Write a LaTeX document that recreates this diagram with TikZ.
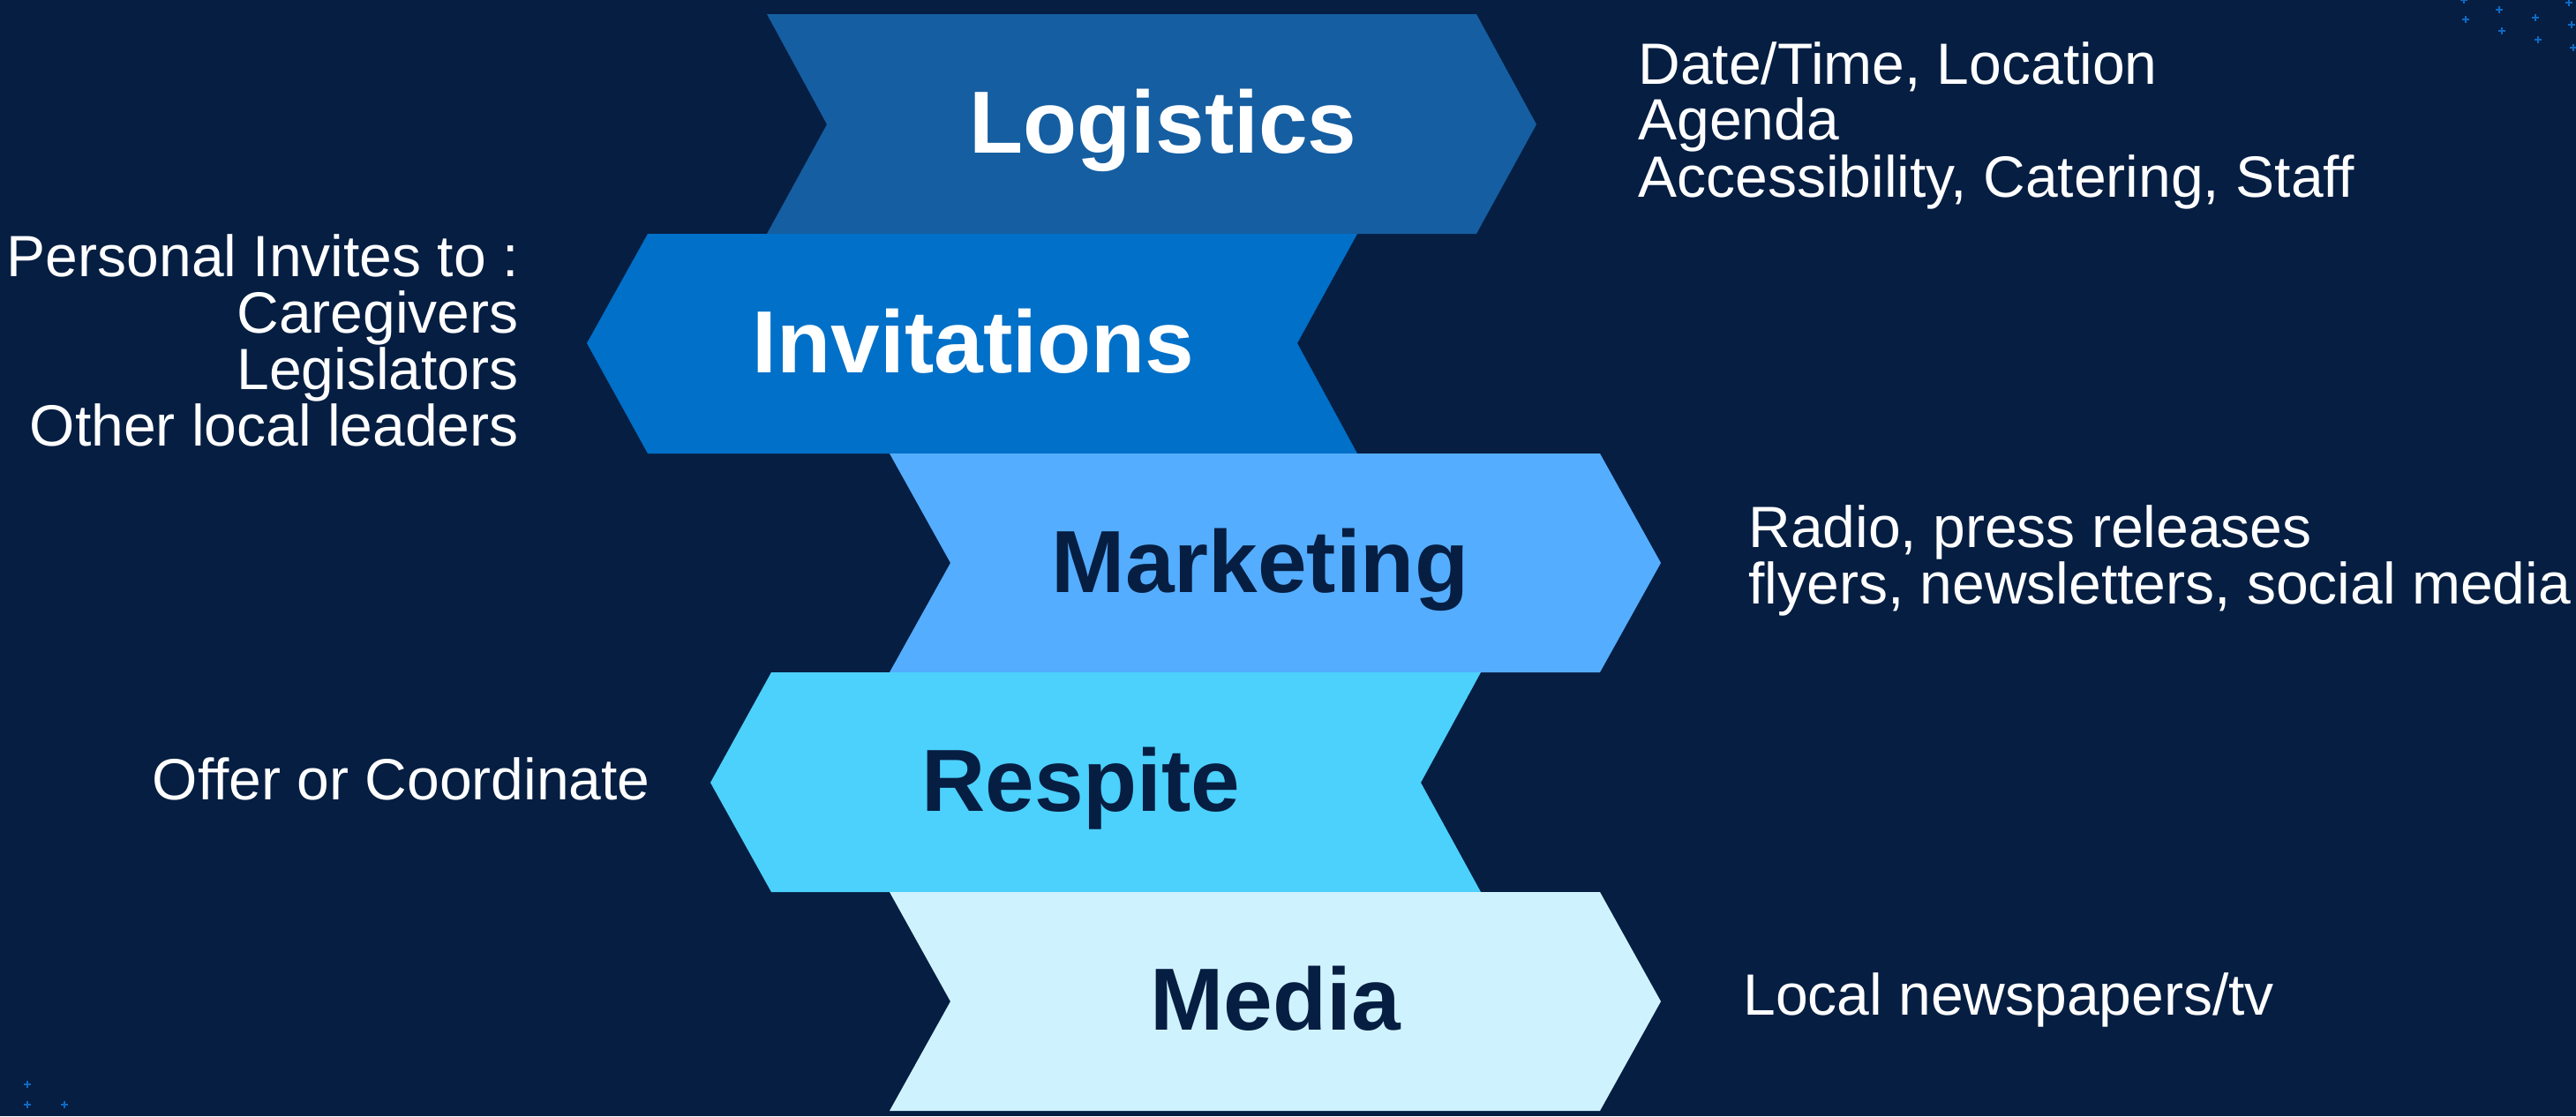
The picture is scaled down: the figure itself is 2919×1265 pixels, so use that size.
\documentclass[tikz,border=0pt]{standalone}
\usepackage{fontspec}
\setmainfont{Liberation Sans}
\definecolor{bg}{HTML}{051E42}
\definecolor{cLog}{HTML}{155EA1}
\definecolor{cInv}{HTML}{0070C8}
\definecolor{cMar}{HTML}{54ADFE}
\definecolor{cRes}{HTML}{4CD0FC}
\definecolor{cMed}{HTML}{CFF2FF}
\definecolor{darktxt}{HTML}{061E42}
\definecolor{plusc}{HTML}{0E6AC4}
\tikzset{
  title/.style={font=\fontsize{50}{50}\selectfont\bfseries, inner sep=0pt, anchor=base},
  info/.style={font=\fontsize{33}{32}\selectfont, text=white, inner sep=0pt},
  plusmark/.style={draw=plusc, line width=1.1pt},
}
\newcommand{\plusat}[2]{\draw[plusmark] (#1-4,#2) -- (#1+4,#2) (#1,#2-4) -- (#1,#2+4);}
\begin{document}
\begin{tikzpicture}[x=0.5pt,y=-0.5pt]
\fill[bg] (0,0) rectangle (2919,1265);
\useasboundingbox (0,0) rectangle (2919,1265);
% chevrons
\fill[cLog] (869,16) -- (1673,16) -- (1741,141) -- (1673,265) -- (869,265) -- (937,141) -- cycle;
\fill[cInv] (734,265) -- (1538,265) -- (1470,389) -- (1538,514) -- (734,514) -- (665,389) -- cycle;
\fill[cMar] (1008,514) -- (1813,514) -- (1882,638) -- (1813,762) -- (1008,762) -- (1077,638) -- cycle;
\fill[cRes] (874,762) -- (1678,762) -- (1610,887) -- (1678,1011) -- (874,1011) -- (805,887) -- cycle;
\fill[cMed] (1008,1011) -- (1813,1011) -- (1882,1135) -- (1813,1259) -- (1008,1259) -- (1077,1135) -- cycle;
% titles
\node[title, text=white] (tLog) at (1318,173) {Logistics};
\node[title, text=white] (tInv) at (1103,422) {Invitations};
\node[title, text=darktxt] (tMar) at (1428,671) {Marketing};
\node[title, text=darktxt] (tRes) at (1225,919) {Respite};
\node[title, text=darktxt] (tMed) at (1445,1167) {Media};
% right info
\node[info, anchor=base west] (l1) at (1856,95) {Date/Time, Location};
\node[info, anchor=base west] (l2) at (1856,158) {Agenda};
\node[info, anchor=base west] (l3) at (1856,223) {Accessibility, Catering, Staff};
\node[info, anchor=base west] (m1) at (1981,620) {Radio, press releases};
\node[info, anchor=base west] (m2) at (1981,684) {flyers, newsletters, social media};
\node[info, anchor=base west] (d1) at (1975,1150) {Local newspapers/tv};
% left info
\node[info, anchor=base east] (i1) at (588,313) {Personal Invites to :};
\node[info, anchor=base east] (i2) at (588,377) {Caregivers};
\node[info, anchor=base east] (i3) at (588,441) {Legislators};
\node[info, anchor=base east] (i4) at (588,505) {Other local leaders};
\node[info, anchor=base east] (r1) at (737,906) {Offer or Coordinate};
% decorative plus marks
\plusat{2792}{0}
\plusat{2832}{11}
\plusat{2794}{22}
\plusat{2873}{20}
\plusat{2835}{35}
\plusat{2911}{3}
\plusat{2914}{28}
\plusat{2876}{45}
\plusat{2916}{54}
\plusat{31}{1229}
\plusat{31}{1252}
\plusat{73}{1252}
\end{tikzpicture}
\end{document}
